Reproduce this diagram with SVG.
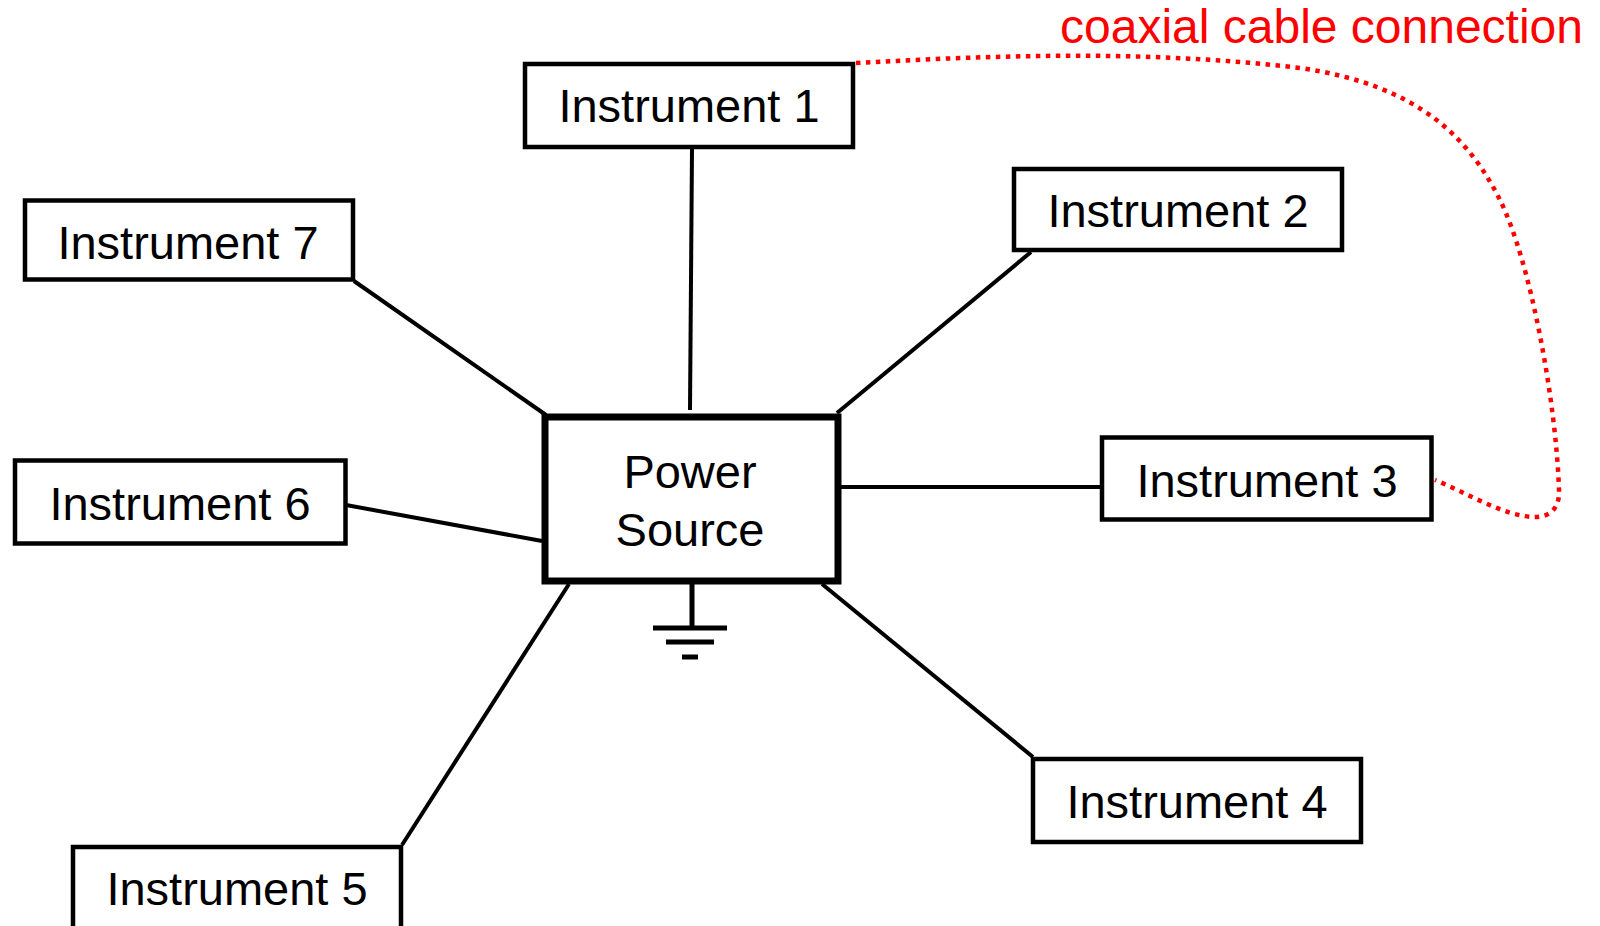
<svg xmlns="http://www.w3.org/2000/svg" width="1600" height="926" viewBox="0 0 1600 926">
<style>
.box{fill:#fff;stroke:#000;stroke-width:4.5}
.pbox{fill:#fff;stroke:#000;stroke-width:7}
.lbl{font-size:47px;fill:#000;text-anchor:middle}
.wire{stroke:#000;stroke-width:4;fill:none}
.gnd{stroke:#000;stroke-width:5;fill:none}
.coax{stroke:#f00;stroke-width:4.5;stroke-dasharray:4.5 5.5;fill:none}
.red{font-size:48px;fill:#f00;text-anchor:end}
</style>
<rect width="1600" height="926" fill="#fff"/>
<g id="connectors">
<line class="wire" x1="692" y1="149" x2="690" y2="410"/>
<line class="wire" x1="1031" y1="252" x2="837" y2="413"/>
<line class="wire" x1="841" y1="487" x2="1102" y2="487"/>
<line class="wire" x1="822" y1="584" x2="1033" y2="757"/>
<line class="wire" x1="569" y1="584" x2="402" y2="845"/>
<line class="wire" x1="346" y1="505" x2="542" y2="541"/>
<line class="wire" x1="354" y1="281" x2="546" y2="415"/>
<path class="coax" d="M 856 63 C 1000 55, 1150 50, 1300 68 C 1420 85, 1470 140, 1500 200 C 1530 260, 1556 400, 1559 490 C 1560 508, 1550 517, 1535 517 C 1505 517, 1465 492, 1435 480"/>
<text class="red" x="1583" y="43" font-family="Liberation Sans, Arimo, Helvetica, Arial, sans-serif">coaxial cable connection</text>
</g>
<g id="power" font-family="Liberation Sans, Arimo, Helvetica, Arial, sans-serif">
<rect class="pbox" x="545" y="417" width="293" height="164"/>
<text class="lbl" x="690" y="488">Power</text>
<text class="lbl" x="690" y="546">Source</text>
<line class="gnd" x1="692" y1="584" x2="692" y2="628"/>
<line class="gnd" x1="653" y1="628" x2="727" y2="628"/>
<line class="gnd" x1="666" y1="642" x2="714" y2="642"/>
<line class="gnd" x1="682" y1="657" x2="698" y2="657"/>
</g>
<g font-family="Liberation Sans, Arimo, Helvetica, Arial, sans-serif">
<g id="inst1"><rect class="box" x="525" y="64" width="328" height="83"/><text class="lbl" x="689" y="122">Instrument 1</text></g>
<g id="inst2"><rect class="box" x="1014" y="169" width="328" height="81"/><text class="lbl" x="1178" y="227">Instrument 2</text></g>
<g id="inst3"><rect class="box" x="1102" y="437.5" width="329.5" height="82"/><text class="lbl" x="1267" y="497">Instrument 3</text></g>
<g id="inst4"><rect class="box" x="1033" y="759" width="328" height="83"/><text class="lbl" x="1197" y="818">Instrument 4</text></g>
<g id="inst5"><rect class="box" x="73" y="847" width="328" height="83"/><text class="lbl" x="237" y="905">Instrument 5</text></g>
<g id="inst6"><rect class="box" x="15" y="460.5" width="330.5" height="83"/><text class="lbl" x="180" y="520">Instrument 6</text></g>
<g id="inst7"><rect class="box" x="25" y="200.5" width="328" height="79"/><text class="lbl" x="188" y="259">Instrument 7</text></g>
</g>
</svg>
